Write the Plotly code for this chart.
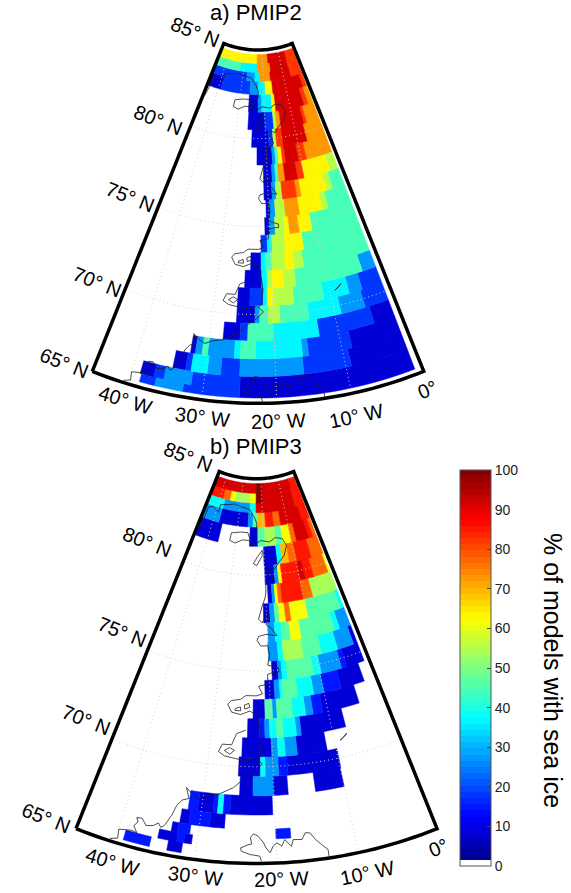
import numpy as np
import plotly.graph_objects as go

W, H = 571, 893
FONT = "Liberation Sans"

# ---------- PMIP2: % of models with sea ice, per latitude band ----------
P2_LAT_EDGES = [84.75, 84.25, 83.75, 83.25, 82.5, 81.5, 80.5, 79.5, 78.5, 77.5, 76.5, 75.5, 74.5, 73.5,
                72.5, 71.5, 70.5, 69.5, 68.5, 67.5, 66.5, 65.75, 65.3]
P2_LON_EDGES = [
    [-45, -23, -17, -6.5, -1],
    [-45, -32, -23, -16, -6.7, -1],
    [-45, -28, -24, -21.5, -16.5, -6.5, -1],
    [-45, -38.9, -26, -22.5, -19.3, -16, -2.7, -1],
    [-26.2, -22.5, -21, -17, -15.6, -4.6, -3, -1],
    [-26, -20, -17, -16, -14.5, -6.5, -5.5, -1],
    [-24.5, -19, -17.6, -16.6, -14.6, -7, -1],
    [-22.8, -18.3, -17.4, -16.5, -15.4, -14.5, -10.8, -8.5, -1],
    [-21, -18.7, -17.8, -17, -15.3, -12, -10.3, -3.3, -1],
    [-21, -19, -18, -16.5, -13, -11.9, -5.5, -4, -1],
    [-20.6, -19.7, -18.5, -16.2, -13, -7.7, -6.3, -1],
    [-21, -19.9, -18.8, -16.7, -15.7, -13.7, -10.9, -1],
    [-21.9, -20.6, -19.6, -16.9, -13.3, -1],
    [-23.9, -21.9, -21, -19.8, -17.2, -15.7, -13.8, -1],
    [-24.9, -21.8, -20.8, -19.9, -17.9, -15.7, -3.5, -1],
    [-26, -23.9, -21.6, -20.9, -19.9, -16.4, -11.2, -6.8, -4.5, -1],
    [-26, -23, -22.2, -20.8, -18.9, -14.2, -8.9, -4.9, -1],
    [-27.9, -25.3, -24.1, -20.2, -13, -4.3, -1],
    [-32.5, -31.8, -30.8, -30, -26, -25.1, -22.9, -15.9, -15, -8.5, -1],
    [-34.6, -32.8, -32, -29.7, -27.8, -25.1, -16, -9.2, -1],
    [-38.8, -36.9, -35.5, -31.7, -25, -1],
    [-38.6, -36.5, -32.7, -25, -1],
]
P2_VALUES = [
    [64, 73, 91, 82],
    [45, 36, 73, 91, 82],
    [18, 27, 36, 73, 91, 82],
    [9, 18, 27, 36, 64, 91, 82],
    [9, 27, 36, 64, 91, 82, 73],
    [9, 18, 55, 73, 91, 82, 73],
    [9, 18, 55, 82, 91, 73],
    [9, 27, 45, 64, 82, 91, 82, 73],
    [9, 27, 45, 73, 91, 82, 64, 55],
    [9, 27, 55, 82, 73, 64, 55, 45],
    [9, 27, 55, 73, 64, 55, 45],
    [9, 27, 55, 64, 73, 64, 45],
    [18, 36, 55, 64, 45],
    [9, 36, 45, 55, 64, 55, 45],
    [9, 36, 55, 64, 55, 45, 27],
    [9, 18, 36, 64, 55, 45, 36, 27, 18],
    [9, 27, 45, 55, 45, 36, 27, 18],
    [9, 18, 45, 36, 18, 9],
    [9, 27, 45, 27, 36, 45, 36, 27, 18, 9],
    [9, 18, 36, 27, 18, 27, 18, 9],
    [9, 18, 27, 18, 9],
    [18, 27, 18, 9],
]

# ---------- PMIP3 ----------
P3_LAT_EDGES = [84.75, 84.25, 83.75, 83.25, 82.5, 81.5, 80.5, 79.5, 78.5, 77.5, 76.5, 75.5, 74.5, 73.5,
                72.5, 71.5, 70.5, 69.5, 68.5, 67.5, 66.76, 66.25, 65.77, 65.25]
P3_LON_EDGES = [
    [-45, -22.7, -19.6, -4.6, -1],
    [-45, -38.7, -35.3, -33, -25.6, -22.7, -19.8, -5, -1],
    [-45, -37.5, -25.4, -22.7, -5.2, -1],
    [-45, -37.7, -25.9, -23.9, -21.9, -18.9, -15.7, -12.8, -4.2, -1],
    [-45, -36.2, -25, -22, -19.4, -15.6, -13, -10, -8.2, -3.7, -2.2, -1],
    [-20.1, -15.8, -14.2, -12, -9.6, -4.9, -1],
    [-20, -17.1, -16, -15, -9.8, -8.3, -5.9, -1.6, -1],
    [-19.4, -18.3, -17.5, -16.7, -15.7, -10.1, -7.6, -1],
    [-20.75, -19.15, -17.95, -16.85, -15.35, -14.15, -9.95, -1.85, -1],
    [-19.85, -18.25, -16.65, -14.75, -12.45, -4.75, -3.55, -1],
    [-20, -17.9, -16.8, -12.7, -8.8, -5.3, -1.8, -1],
    [-19.4, -18.2, -17.4, -16.4, -11.2, -9.7, -5.6, -4.6, -1],
    [-20.9, -19.1, -18.1, -17.6, -14.9, -11.9, -10, -6.7, -2.3],
    [-23.1, -21, -19.7, -18.9, -16.2, -13.9, -12.6, -10.9, -4.4],
    [-24, -22, -21.1, -20.3, -19.1, -18.1, -15.9, -15.1, -7.7],
    [-24.8, -20.1, -19.1, -18, -16.1, -11.4],
    [-25.2, -21.9, -21.2, -19.2, -17.8, -9.9],
    [-24.9, -23, -20.1, -18, -14.1, -10],
    [-31.8, -30.5, -28.4, -27.8, -27.1, -26.1, -20.3],
    [-32.6, -31.4, -28.7, -26.7],
    [-33.5, -32.7, -31.1, -20, -18.1],
    [-35, -32.6, -31.7, -30.7],
    [-39.1, -35.8, -33.6, -31.8],
]
P3_VALUES = [
    [92, 100, 92, 85],
    [85, 77, 62, 54, 62, 100, 92, 85],
    [38, 27, 38, 92, 85],
    [27, 8, 27, 46, 69, 85, 77, 92, 85],
    [8, 0, 8, 46, 54, 46, 62, 77, 92, 85, 77],
    [8, 38, 69, 77, 85, 77],
    [8, 27, 62, 85, 92, 85, 77, 62],
    [8, 27, 62, 77, 85, 77, 54],
    [8, 27, 46, 62, 77, 62, 46, 38],
    [27, 38, 46, 62, 46, 38, 27],
    [27, 38, 54, 46, 38, 27, 8],
    [8, 27, 38, 46, 38, 27, 15, 8],
    [8, 27, 38, 46, 38, 27, 15, 8],
    [8, 46, 27, 46, 38, 27, 15, 8],
    [8, 15, 27, 38, 46, 38, 27, 8],
    [8, 27, 38, 27, 8],
    [8, 38, 27, 15, 8],
    [8, 27, 8, 0, 8],
    [15, 8, 15, 38, 15, 8],
    [8, 15, 8],
    [8, 15, 0, 15],
    [8, 15, 8],
    [15, 0, 8],
]

# ---------- coastlines (lon, lat) ----------
COAST_LON = [-44.3, -43.7, -43.6, -41.8, -38.8, -38.9, -35.7, -32.5, -29.0, -25.6, -23.4, -22.4, -22.4, -25.0, -25.8,
             -28.6, -32.0, -32.2, -30.2, -27.7, -25.0, -24.3, -23.0, -21.0, -17.8, -15.6, -13.1, -12.0, -13.4, -15.4,
             -16.7, -18.4, -19.6, -18.0, -17.6, -18.7, -19.8, -19.9, -20.2, -21.0, -22.0, -21.1, -20.2, -19.3, -20.2,
             -19.0, -18.4,
             -17.8, -20.3, -22.0, -22.4, -21.6, -20.0, -19.7, -20.2, -19.1, -18.0, -18.0, -19.2, -20.3, -20.3, -22.1,
             -21.4, -22.4, -23.1, -24.5, -25.4, -27.1, -27.7, -26.9, -25.3, -23.7, -22.4, -21.8, -21.6, -21.9, -22.4,
             -21.6, -22.7, -24.3, -25.8, -27.8, -29.4, -30.6, -31.7, -32.5, -31.9, -32.8, -33.4, -33.8, -34.5, -34.9,
             -35.3, -35.9, -36.8, -37.5, -38.2, -37.9, -38.3, -37.7, -38.4, -40.0, -39.8, -40.7]
COAST_LAT = [81.9, 82.6, 83.1, 83.2, 83.0, 83.4, 83.5, 83.6, 83.5, 83.4, 83.0, 82.7, 82.3, 81.9, 82.2,
             82.2, 82.1, 81.7, 81.6, 81.8, 81.8, 81.5, 81.6, 81.8, 81.7, 81.9, 81.8, 81.4, 80.9, 80.6,
             80.3, 80.4, 80.2, 80.0, 79.7, 79.5, 79.6, 79.1, 78.8, 78.4, 77.7, 77.5, 77.9, 77.8, 77.4,
             77.2, 77.0,
             76.8, 76.9, 76.8, 76.6, 76.3, 76.3, 75.8, 75.3, 75.2, 75.1, 74.9, 74.9, 74.8, 74.3, 74.2,
             73.8, 73.7, 73.7, 73.7, 73.5, 73.4, 73.2, 72.8, 72.7, 72.9, 72.7, 71.9, 71.4, 70.7, 70.4,
             70.15, 69.78, 69.39, 68.89, 68.5, 68.37, 68.16, 68.38, 68.62, 68.08, 67.94, 67.61, 67.09, 66.47, 66.34,
             66.54, 66.35, 66.26, 66.58, 66.54, 66.34, 66.1, 65.78, 65.84, 65.71, 65.25, 65.12]
ICELAND_LON = [-21.9, -22.1, -23.3, -24.4, -24.5, -23.7, -23.1, -23.3, -22.9, -22.3, -21.6, -21.3, -20.8, -20.4, -19.9,
               -19.3, -18.9, -18.1, -17.8, -16.7, -16.2, -15.6, -15.0, -14.3, -13.6, -13.6]
ICELAND_LAT = [65.12, 65.38, 65.46, 65.62, 65.79, 65.94, 66.01, 66.32, 66.53, 66.41, 66.06, 65.8, 65.54, 65.88, 66.04,
               65.86, 66.19, 65.82, 66.16, 66.12, 66.45, 66.42, 66.05, 65.74, 65.44, 65.01]
ISLANDS = [
    ([-20.5, -22.4, -23.5, -22.4, -20.6, -20.5], [81.3, 80.9, 80.6, 80.5, 81.0, 81.3]),
    ([-26.3, -25.4, -25.3, -26.3, -26.3], [73.0, 73.1, 72.9, 72.9, 73.0]),
    ([-24.7, -23.9, -23.7, -24.6, -24.7], [73.2, 73.3, 73.1, 73.0, 73.2]),
    ([-24.3, -25.8, -26.5, -28.0, -28.5, -27.5, -25.8, -24.1, -22.7], [71.9, 71.7, 71.1, 71.1, 70.7, 70.5, 70.4, 70.3, 70.5]),
    ([-27.6, -26.8, -26.0, -26.7, -27.6], [70.78, 70.95, 70.82, 70.61, 70.78]),
    ([-9.1, -8.0, -7.8, -8.7, -9.1], [70.88, 71.09, 71.17, 70.95, 70.88]),
]

LAT_TICKS = [65, 70, 75, 80, 85]
LON_TICKS = [-40, -30, -20, -10]
CBAR_TICKS = list(range(0, 101, 10))


def jet(f):
    r = np.clip(min(4 * f - 1.5, -4 * f + 4.5), 0, 1)
    g = np.clip(min(4 * f - 0.5, -4 * f + 3.5), 0, 1)
    b = np.clip(min(4 * f + 0.5, -4 * f + 2.5), 0, 1)
    return f"rgb({int(r*255)},{int(g*255)},{int(b*255)})"


NLEV = 64
LEV_COL = ["rgb(255,255,255)"] + [jet((i + 0.5) / NLEV) for i in range(1, NLEV)]
COLORSCALE = []
for i, c in enumerate(LEV_COL):
    COLORSCALE += [[i / NLEV, c], [(i + 1) / NLEV, c]]


def level_colour(v):
    return LEV_COL[min(int(v / 100 * NLEV), NLEV - 1)]


fig = go.Figure()


def add_cells(geo, lat_edges, lon_edges, values):
    groups = {}
    for r, (edges, vals) in enumerate(zip(lon_edges, values)):
        north, south = lat_edges[r], lat_edges[r + 1]
        for w, e, v in zip(edges[:-1], edges[1:], vals):
            if v <= 0:
                continue
            k = max(2, int((e - w) / 1.0) + 2)
            tl = np.linspace(w, e, k)
            lon = list(tl) + list(tl[::-1]) + [w, None]
            lat = [north] * k + [south] * k + [north, None]
            g = groups.setdefault(v, ([], []))
            g[0].extend(lon)
            g[1].extend(lat)
    for v in sorted(groups):
        c = level_colour(v)
        fig.add_trace(go.Scattergeo(lon=groups[v][0], lat=groups[v][1], mode="lines", fill="toself",
                                    fillcolor=c, line=dict(color=c, width=0.5), geo=geo,
                                    showlegend=False, hoverinfo="skip"))


def add_coast(geo):
    lines = [(COAST_LON, COAST_LAT), (ICELAND_LON, ICELAND_LAT)] + ISLANDS
    for lo, la in lines:
        fig.add_trace(go.Scattergeo(lon=lo, lat=la, mode="lines", geo=geo, showlegend=False, hoverinfo="skip",
                                    line=dict(color="#222222", width=0.8)))


def add_frame(geo):
    lo = list(np.linspace(-45, 0, 46))
    la = list(np.linspace(65, 85, 21))
    grid = dict(color="#d2d2d2", width=1, dash="1px,3px")
    for lat in LAT_TICKS[1:-1]:
        fig.add_trace(go.Scattergeo(lon=lo, lat=[lat] * 46, mode="lines", geo=geo, showlegend=False, hoverinfo="skip",
                                    line=grid))
    for lon in LON_TICKS:
        fig.add_trace(go.Scattergeo(lon=[lon] * 21, lat=la, mode="lines", geo=geo, showlegend=False, hoverinfo="skip",
                                    line=grid))
    fig.add_trace(go.Scattergeo(lon=[-45] * 21 + lo + [0] * 21 + lo[::-1], lat=la + [85] * 46 + la[::-1] + [65] * 46,
                                mode="lines", line=dict(color="black", width=3.5), geo=geo,
                                showlegend=False, hoverinfo="skip"))


add_cells("geo", P2_LAT_EDGES, P2_LON_EDGES, P2_VALUES)
add_frame("geo")
add_coast("geo")
add_cells("geo2", P3_LAT_EDGES, P3_LON_EDGES, P3_VALUES)
add_frame("geo2")
add_coast("geo2")

# colour bar carrier
fig.add_trace(go.Scattergeo(lon=[-20], lat=[75], mode="markers", geo="geo2", showlegend=False, hoverinfo="skip",
                            marker=dict(size=1, opacity=0, color=[50], cmin=0, cmax=100, colorscale=COLORSCALE,
                                        showscale=True,
                                        colorbar=dict(x=460 / W, xanchor="left", y=1 - 470 / H, yanchor="top",
                                                      len=396 / H, lenmode="fraction", thickness=31, thicknessmode="pixels",
                                                      xpad=0, ypad=0, outlinewidth=1, outlinecolor="#555",
                                                      tickvals=CBAR_TICKS, ticks="inside", ticklen=4, tickcolor="#444",
                                                      tickfont=dict(family=FONT, size=14, color="#222")))))


def geo(x0, x1, y0, y1):
    return dict(projection=dict(type="conic conformal", parallels=[65, 85], rotation=dict(lon=-22.5)),
                lonaxis=dict(range=[-46, 1], showgrid=False), lataxis=dict(range=[64.7, 85.5], showgrid=False),
                showland=False, showcoastlines=False, showframe=False, showocean=False, showlakes=False,
                showcountries=False, showsubunits=False, showrivers=False, bgcolor="rgba(0,0,0,0)",
                domain=dict(x=[x0 / W, x1 / W], y=[1 - y1 / H, 1 - y0 / H]))


def label(text, x, y, angle=0, size=20):
    return dict(text=text, x=x / W, y=1 - y / H, xref="paper", yref="paper", xanchor="center", yanchor="middle",
                textangle=angle, showarrow=False, font=dict(family=FONT, size=size, color="black"))


annots = [label("a) PMIP2", 256, 12, 0, 22), label("b) PMIP3", 256, 446, 0, 22),
          label("% of models with sea ice", 553, 670, 90, 25)]
for t, x, y in [(85, 195, 32), (80, 158, 120), (75, 130, 197), (70, 97, 282), (65, 64, 363),
                (85, 188, 457), (80, 147, 542), (75, 122, 632), (70, 86, 720), (65, 46, 818)]:
    annots.append(label(f"{t}° N", x, y, 21.8))
for t, x, y, a in [(40, 125, 400, 17), (30, 202, 417, 7), (20, 278, 421, -2), (10, 356, 416, -12),
                   (40, 112, 862, 17), (30, 195, 876, 7), (20, 281, 879, -2), (10, 367, 873, -12)]:
    annots.append(label(f"{t}° W", x, y, a))
annots += [label("0°", 427, 390, -22), label("0°", 438, 848, -22)]

shapes = [dict(type="line", xref="paper", yref="paper", x0=460 / W, x1=464 / W,
               y0=1 - (866 - 3.96 * v) / H, y1=1 - (866 - 3.96 * v) / H, line=dict(color="#444", width=1))
          for v in CBAR_TICKS[1:-1]]

fig.update_layout(width=W, height=H, margin=dict(l=0, r=0, t=0, b=0), paper_bgcolor="white",
                  geo=geo(83.2, 432.8, 37.7, 411.8), geo2=geo(66.1, 446.9, 465.3, 872.7),
                  annotations=annots, shapes=shapes)
fig.write_html("out.html", post_script="document.body.style.margin='0';", config=dict(displayModeBar=False))
